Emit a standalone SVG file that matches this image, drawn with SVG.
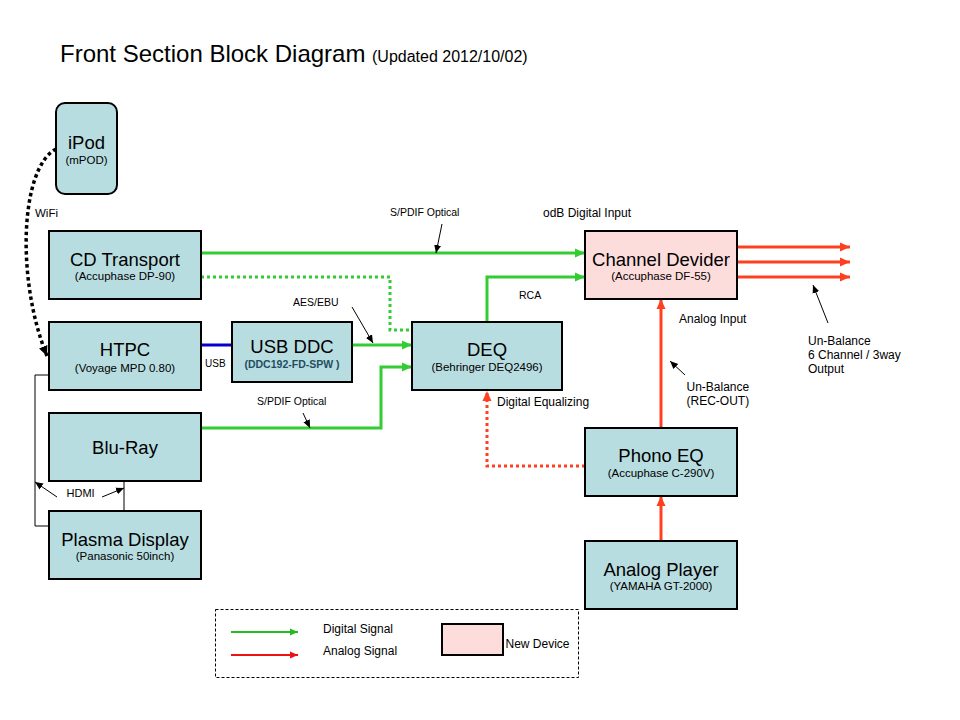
<svg xmlns="http://www.w3.org/2000/svg" width="960" height="720" viewBox="0 0 960 720">
<defs>
<marker id="ag" markerUnits="userSpaceOnUse" markerWidth="12" markerHeight="10" refX="10" refY="5" orient="auto"><path d="M0,0.5 L10,5 L0,9.5 z" fill="#33cc33"/></marker>
<marker id="ar" markerUnits="userSpaceOnUse" markerWidth="12" markerHeight="10" refX="10" refY="5" orient="auto"><path d="M0,0.5 L10,5 L0,9.5 z" fill="#ff4020"/></marker>
<marker id="ak" markerUnits="userSpaceOnUse" markerWidth="10" markerHeight="8" refX="8" refY="4" orient="auto"><path d="M0,0.5 L8,4 L0,7.5 z" fill="#000"/></marker>
<marker id="akb" markerUnits="userSpaceOnUse" markerWidth="12" markerHeight="10" refX="10" refY="5" orient="auto"><path d="M0,0.5 L10,5 L0,9.5 z" fill="#000"/></marker>
<marker id="lg" markerUnits="userSpaceOnUse" markerWidth="10" markerHeight="8" refX="8" refY="4" orient="auto"><path d="M0,0.5 L8,4 L0,7.5 z" fill="#22bb22"/></marker>
<marker id="lr" markerUnits="userSpaceOnUse" markerWidth="10" markerHeight="8" refX="8" refY="4" orient="auto"><path d="M0,0.5 L8,4 L0,7.5 z" fill="#ee1111"/></marker>
</defs>
<style>
.node rect{fill:#b8dde1;stroke:#000;stroke-width:2}
.node rect.new{fill:#fddcdc}
text{font-family:"Liberation Sans",Arial,sans-serif;fill:#000}
.t{font-size:18.5px;text-anchor:middle}
.s{font-size:11.5px;text-anchor:middle}
.lbl{font-size:12px}
.sm{font-size:10.5px}
.g{stroke:#33cc33;stroke-width:3;fill:none}
.gd{stroke:#33cc33;stroke-width:3;fill:none;stroke-dasharray:3 3}
.r{stroke:#ff4020;stroke-width:3;fill:none}
.rd{stroke:#ff4020;stroke-width:3;fill:none;stroke-dasharray:3 3}
.p{stroke:#000;stroke-width:1;fill:none;marker-end:url(#ak)}
.w{stroke:#000;stroke-width:1;fill:none}
</style>
<rect x="0" y="0" width="960" height="720" fill="#fff"/>

<text x="60" y="62" style="font-size:24px">Front Section Block Diagram</text>
<text x="372" y="62" style="font-size:16px">(Updated 2012/10/02)</text>

<g id="connectors">
<path class="g" d="M201,253 H585" marker-end="url(#ag)"/>
<path class="gd" d="M201,277 H390 V330 H412"/>
<path d="M201,345 H232" stroke="#0000cc" stroke-width="3" fill="none"/>
<path class="g" d="M352,345 H412" marker-end="url(#ag)"/>
<path class="g" d="M201,428 H381 V367 H412" marker-end="url(#ag)"/>
<path class="g" d="M487,322 V277 H585" marker-end="url(#ag)"/>
<path class="r" d="M737,247 H850" marker-end="url(#ar)"/>
<path class="r" d="M737,262 H850" marker-end="url(#ar)"/>
<path class="r" d="M737,277 H850" marker-end="url(#ar)"/>
<path class="r" d="M661,428 V299" marker-end="url(#ar)"/>
<path class="r" d="M661,541 V496" marker-end="url(#ar)"/>
<path class="rd" d="M585,466 H487 V391" marker-end="url(#ar)"/>
<path d="M56,149 C20,168 16,280 47,356" stroke="#000" stroke-width="3.5" fill="none" stroke-dasharray="3.5 3" marker-end="url(#akb)"/>
<path class="w" d="M49,375 H35 V526 H49"/>
<path class="w" d="M124,481 V511"/>
<path class="p" d="M442,224 L436,253"/>
<path class="p" d="M352,307 L373,343"/>
<path class="p" d="M303,413 L310,428"/>
<path class="p" d="M685,375 L670,361"/>
<path class="p" d="M828,323 L813,285"/>
<path class="p" d="M57,497 L35,482"/>
<path class="p" d="M102,497 L124,488"/>
</g>

<g id="ipod" class="node"><rect x="56" y="103" width="61" height="91" rx="9"/><text class="t" x="86.5" y="149">iPod</text><text class="s" x="86.5" y="164">(mPOD)</text></g>
<g id="cd" class="node"><rect x="49" y="231" width="152" height="68"/><text class="t" x="125" y="266">CD Transport</text><text class="s" x="125" y="280">(Accuphase DP-90)</text></g>
<g id="htpc" class="node"><rect x="49" y="322" width="152" height="68"/><text class="t" x="125" y="356">HTPC</text><text class="s" x="125" y="372">(Voyage MPD 0.80)</text></g>
<g id="usbddc" class="node"><rect x="232" y="322" width="120" height="60"/><text class="t" x="292" y="353">USB DDC</text><text class="s" x="292" y="368" style="font-size:10.5px;font-weight:bold;fill:#1f4e5f">(DDC192-FD-SPW )</text></g>
<g id="deq" class="node"><rect x="412" y="322" width="150" height="68"/><text class="t" x="487" y="356">DEQ</text><text class="s" x="487" y="371">(Behringer DEQ2496)</text></g>
<g id="bluray" class="node"><rect x="49" y="413" width="152" height="68"/><text class="t" x="125" y="454">Blu-Ray</text></g>
<g id="plasma" class="node"><rect x="49" y="511" width="152" height="68"/><text class="t" x="125" y="546">Plasma Display</text><text class="s" x="125" y="560">(Panasonic 50inch)</text></g>
<g id="chdiv" class="node"><rect class="new" x="585" y="231" width="152" height="68"/><text class="t" x="661" y="265.5">Channel Devider</text><text class="s" x="661" y="280">(Accuphase DF-55)</text></g>
<g id="phono" class="node"><rect x="585" y="428" width="152" height="68"/><text class="t" x="661" y="462">Phono EQ</text><text class="s" x="661" y="476.5">(Accuphase C-290V)</text></g>
<g id="analog" class="node"><rect x="585" y="541" width="152" height="68"/><text class="t" x="661" y="576">Analog Player</text><text class="s" x="661" y="590">(YAMAHA GT-2000)</text></g>

<g id="labels">
<text class="lbl" x="35" y="217" style="font-size:11.5px">WiFi</text>
<text class="sm" x="390" y="216">S/PDIF Optical</text>
<text class="lbl" x="543" y="217">odB Digital Input</text>
<text class="sm" x="293" y="306">AES/EBU</text>
<text class="sm" x="519" y="299">RCA</text>
<text x="205" y="367" style="font-size:10px">USB</text>
<text class="sm" x="257" y="405">S/PDIF Optical</text>
<text class="lbl" x="497" y="406">Digital Equalizing</text>
<text class="lbl" x="679" y="323">Analog Input</text>
<text class="lbl" x="686.5" y="391">Un-Balance</text>
<text class="lbl" x="686.5" y="405">(REC-OUT)</text>
<text class="lbl" x="808" y="345">Un-Balance</text>
<text class="lbl" x="808" y="359">6 Channel / 3way</text>
<text class="lbl" x="808" y="373">Output</text>
<text class="sm" x="66.5" y="497" style="font-size:11px">HDMI</text>
</g>

<g id="legend">
<rect x="215.5" y="609.5" width="363" height="68" fill="none" stroke="#000" stroke-width="1" stroke-dasharray="3 2"/>
<path d="M231,632 H298" stroke="#22bb22" stroke-width="2" fill="none" marker-end="url(#lg)"/>
<path d="M231,655 H298" stroke="#ee1111" stroke-width="2" fill="none" marker-end="url(#lr)"/>
<text class="lbl" x="323" y="633">Digital Signal</text>
<text class="lbl" x="323" y="655">Analog Signal</text>
<rect x="442" y="624" width="61" height="31" fill="#fddcdc" stroke="#000" stroke-width="2"/>
<text class="lbl" x="505.5" y="647.5">New Device</text>
</g>
</svg>
